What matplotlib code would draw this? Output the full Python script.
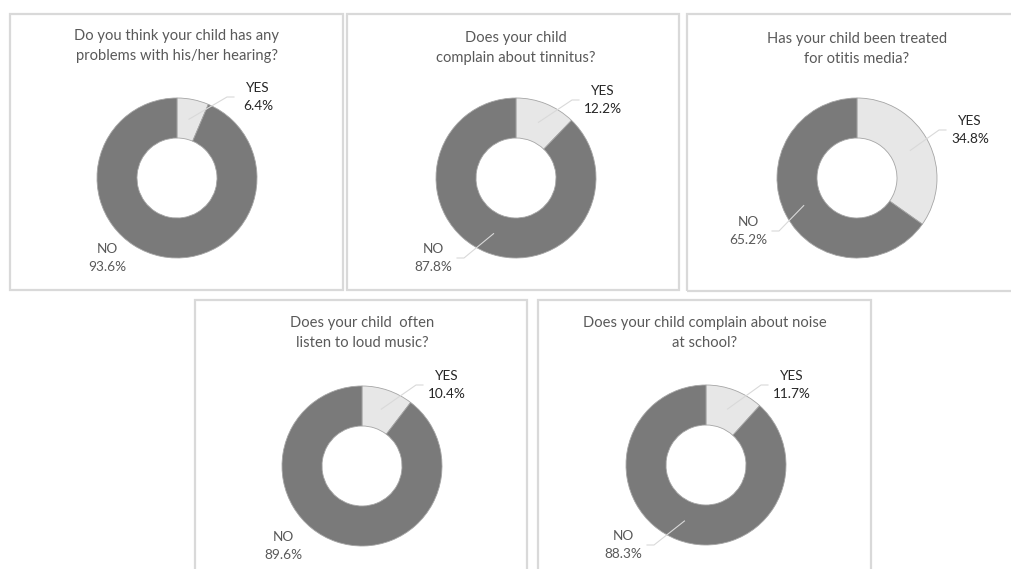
import numpy as np
import matplotlib
matplotlib.use("Agg")
import matplotlib.pyplot as plt
from matplotlib.patches import Rectangle

W, H = 1011, 569

questions = [
    "Do you think your child has any\nproblems with his/her hearing?",
    "Does your child\ncomplain about tinnitus?",
    "Has your child been treated\nfor otitis media?",
    "Does your child  often\nlisten to loud music?",
    "Does your child complain about noise\nat school?",
]
categories = ["YES", "NO"]
yes_pct = [6.4, 12.2, 34.8, 10.4, 11.7]
no_pct = [93.6, 87.8, 65.2, 89.6, 88.3]

# layout in pixels, y measured from the top of the image
boxes = [(10, 14, 343, 290), (347, 14, 679, 290), (687, 14, 1030, 291),
         (195, 300, 527, 600), (538, 300, 871, 600)]
centers = [(177, 178), (516, 178), (857, 178), (362, 466), (706, 465)]
title_xy = [(177, 46), (516, 48), (857, 49), (362, 333), (705, 333)]
yes_label_xy = [(258, 97), (603, 100), (970, 130), (447, 385), (792, 385)]
no_label_xy = [(107, 258), (433, 258), (748, 231), (283, 546), (623, 545)]
no_leader = [False, True, True, False, True]

dark = "#7a7a7a"
light = "#e7e7e7"
radius = 80
ring = 40

plt.rcParams['font.family'] = ['Lato', 'DejaVu Sans']

fig = plt.figure(figsize=(W / 100, H / 100), dpi=100)
ax = fig.add_axes([0, 0, 1, 1])

def fy(y):
    return H - y

for i in range(len(questions)):
    x0, y0, x1, y1 = boxes[i]
    ax.add_patch(Rectangle((x0, fy(y1)), x1 - x0, y1 - y0, fill=False,
                           edgecolor="#d9d9d9", linewidth=1.6, zorder=0))
    cx, cy = centers[i]
    tx, ty = title_xy[i]
    ax.text(tx, fy(ty), questions[i], ha="center", va="center",
            fontsize=10.6, color="#595959", linespacing=1.6)

    wedges, _ = ax.pie([yes_pct[i], no_pct[i]], colors=[light, dark],
                       startangle=90, counterclock=False, radius=radius,
                       center=(cx, fy(cy)),
                       wedgeprops=dict(width=ring, edgecolor="#a5a5a5", linewidth=0.6))

    vals = [yes_pct[i], no_pct[i]]
    label_pos = [yes_label_xy[i], no_label_xy[i]]
    for k, w in enumerate(wedges):
        lx, ly = label_pos[k]
        if k == 0 or no_leader[i]:
            mid = np.deg2rad((w.theta1 + w.theta2) / 2)
            r_mid = radius - ring / 2
            ax_x = cx + r_mid * np.cos(mid)
            ax_y = fy(cy) + r_mid * np.sin(mid)
            side = -1 if k == 0 else 1
            end = (lx + side * 24, fy(ly))
            elbow = (end[0] + side * 7, end[1])
            ax.plot([ax_x, elbow[0], end[0]], [ax_y, elbow[1], end[1]],
                    color="#d9d9d9", linewidth=0.8, zorder=5)
        col = "#262626" if k == 0 else "#595959"
        ax.text(lx, fy(ly), "{}\n{:.1f}%".format(categories[k], vals[k]),
                ha="center", va="center", fontsize=9.8, color=col,
                linespacing=1.55, zorder=6)

ax.set_xlim(0, W)
ax.set_ylim(0, H)
ax.set_aspect("equal")
ax.axis("off")

fig.savefig("out.png", dpi=100, facecolor="white")
